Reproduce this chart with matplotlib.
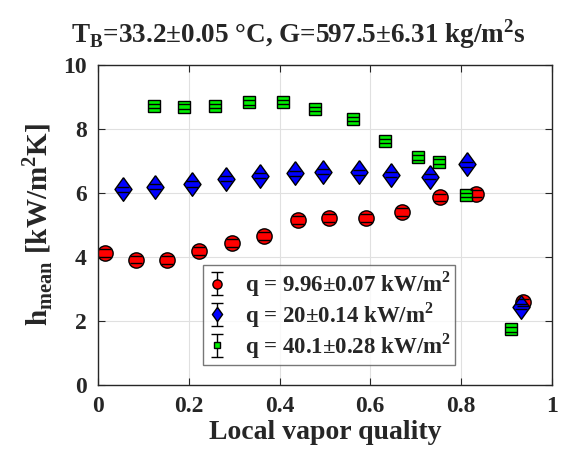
import numpy as np
import matplotlib.pyplot as plt

plt.rcParams['font.family'] = ['Liberation Serif', 'DejaVu Serif']
plt.rcParams['font.weight'] = 'bold'
plt.rcParams['mathtext.fontset'] = 'custom'
plt.rcParams['mathtext.rm'] = 'Liberation Serif:bold'
plt.rcParams['mathtext.bf'] = 'Liberation Serif:bold'
plt.rcParams['text.color'] = '#262626'
plt.rcParams['axes.labelcolor'] = '#262626'
plt.rcParams['xtick.color'] = '#262626'
plt.rcParams['ytick.color'] = '#262626'

# q = 9.96 kW/m2
x_q10 = [0.015, 0.084, 0.152, 0.223, 0.296, 0.366, 0.44, 0.51, 0.59, 0.67, 0.753, 0.833, 0.937]
h_q10 = [4.12, 3.92, 3.90, 4.18, 4.43, 4.66, 5.15, 5.22, 5.22, 5.40, 5.86, 5.98, 2.58]
# q = 20 kW/m2
x_q20 = [0.056, 0.126, 0.208, 0.281, 0.358, 0.435, 0.496, 0.575, 0.645, 0.731, 0.814, 0.932]
h_q20 = [6.11, 6.20, 6.28, 6.44, 6.54, 6.61, 6.67, 6.65, 6.57, 6.51, 6.90, 2.45]
# q = 40.1 kW/m2
x_q40 = [0.124, 0.19, 0.257, 0.333, 0.408, 0.479, 0.561, 0.632, 0.706, 0.751, 0.811, 0.91]
h_q40 = [8.72, 8.70, 8.72, 8.83, 8.84, 8.62, 8.31, 7.63, 7.11, 6.98, 5.94, 1.74]
# error on h
err_q10 = 0.12
err_q20 = 0.08
err_q40 = 0.07

labels = [r'q = 9.96$\pm$0.07 kW/m$^2$',
          r'q = 20$\pm$0.14 kW/m$^2$',
          r'q = 40.1$\pm$0.28 kW/m$^2$']

tall_diamond = [(0, 1), (0.72, 0), (0, -1), (-0.72, 0), (0, 1)]

fig = plt.figure(figsize=(5.73, 4.54), dpi=100)
ax = fig.add_axes([0.171, 0.152, 0.792, 0.705])

series = [
    (x_q10, h_q10, err_q10, 'o', 'red', 11),
    (x_q20, h_q20, err_q20, tall_diamond, 'blue', 17),
    (x_q40, h_q40, err_q40, 's', '#00ee00', 8),
]
for (x, h, e, m, c, ms) in series:
    yerr = e * np.ones(len(h))
    ax.plot(x, h, linestyle='none', marker=m, mfc=c, mec='black', mew=1.0,
            ms=ms, zorder=1.5)
    # caps drawn over the markers
    ax.errorbar(x, h, yerr=yerr, fmt='none', ecolor='black', elinewidth=0,
                capsize=4, capthick=1.0, zorder=2)

# legend handles: small markers with error bars
handles = []
for (x, h, e, m, c, ms) in series:
    hd = ax.errorbar([np.nan], [np.nan], yerr=[1], fmt='', marker=m,
                     linestyle='none', mfc=c, mec='black', mew=1.0,
                     ms=ms * 0.6, ecolor='black', elinewidth=1.0, capsize=4)
    handles.append(hd)

ax.set_xlim(0, 1)
ax.set_ylim(0, 10)
ax.set_xticks([0, 0.2, 0.4, 0.6, 0.8, 1])
ax.set_xticklabels(['0', '0.2', '0.4', '0.6', '0.8', '1'])
ax.set_yticks([0, 2, 4, 6, 8, 10])
ax.tick_params(direction='in', top=True, right=True, labelsize=17, length=5, pad=8)
ax.grid(True, color='#e0e0e0', linewidth=0.8)
ax.set_axisbelow(True)
for s in ax.spines.values():
    s.set_linewidth(1.0)
    s.set_color('#262626')

ax.set_xlabel('Local vapor quality', fontsize=20, fontweight='bold', labelpad=2)
ax.set_ylabel(r'h$_{\mathrm{mean}}$ [kW/m$^2$K]', fontsize=21, fontweight='bold',
              labelpad=6)
fig.text(0.52, 0.925, r'T$_{\mathrm{B}}$=33.2$\pm$0.05 °C, G=597.5$\pm$6.31 kg/m$^2$s',
         fontsize=19.5, fontweight='bold', ha='center', va='center')

leg = ax.legend(handles, labels, loc='lower left', bbox_to_anchor=(0.232, 0.062),
                fontsize=16.5, frameon=True, fancybox=False, edgecolor='#555555',
                handlelength=0.8, handletextpad=0.8, borderpad=0.2,
                labelspacing=0.05, borderaxespad=0)
leg.get_frame().set_linewidth(1.0)

fig.savefig('out.png', dpi=100)
